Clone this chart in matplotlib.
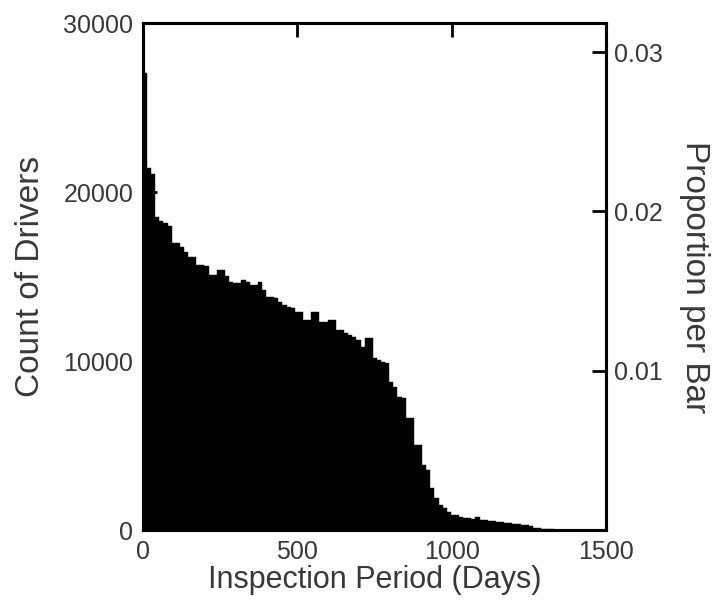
import numpy as np
import matplotlib
matplotlib.use("Agg")
import matplotlib.pyplot as plt

# histogram of inspection periods, 100 bins of ~13.3 days
bin_width = 13.3
counts = [
    27040, 21400, 21100, 18500, 18300, 18200, 18000, 16980, 16980, 16740,
    16450, 16150, 16150, 15680, 15680, 15600, 15090, 15090, 15380, 15380,
    15030, 14670, 14620, 14620, 14790, 14670, 14500, 14500, 14670, 14200,
    13790, 13790, 13730, 13490, 13310, 13190, 13140, 12900, 12900, 12430,
    12430, 12900, 12900, 12310, 12310, 12430, 12430, 11830, 11830, 11660,
    11540, 11420, 11240, 10830, 11360, 11360, 10180, 10060, 9940, 9880,
    8760, 8460, 7870, 7810, 6630, 6630, 5030, 5030, 3850, 3550,
    2490, 1890, 1480, 1300, 1060, 890, 890, 770, 710, 710,
    680, 770, 590, 590, 560, 530, 500, 470, 410, 400,
    380, 350, 300, 280, 240, 120, 100, 80, 60, 40,
]
edges = np.arange(len(counts)) * bin_width

x_ticks = [0, 500, 1000, 1500]
y_ticks = [0, 10000, 20000, 30000]
p_ticks = [0.01, 0.02, 0.03]

txt = '#383838'
plt.rcParams['font.family'] = ['Liberation Sans', 'DejaVu Sans']

fig = plt.figure(figsize=(7.18, 6.10), dpi=100)
ax = fig.add_axes([0.199, 0.131, 0.645, 0.831])

ax.bar(edges, counts, width=bin_width, align='edge', color='k', edgecolor='k', linewidth=0.3)
ax.set_xlim(0, 1500)
ax.set_ylim(0, 30000)
ax.set_xticks(x_ticks)
ax.set_yticks(y_ticks)
ax.tick_params(direction='in', length=10, width=2, labelsize=18, colors='k',
               labelcolor=txt, top=True, pad=7)
for s in ax.spines.values():
    s.set_linewidth(2.2)
ax.set_xlabel('Inspection Period (Days)', fontsize=22, color=txt, labelpad=1)
ax.set_ylabel('Count of Drivers', fontsize=24, color=txt, labelpad=12)

# right axis: proportion of all drivers per bar
total = sum(counts)
ax2 = ax.twinx()
ax2.set_ylim(0, 30000 / total)
ax2.set_yticks(p_ticks)
ax2.set_yticklabels(['0.01', '0.02', '0.03'])
ax2.tick_params(direction='in', length=10, width=2, labelsize=18,
                labelcolor=txt, pad=6)
for s in ax2.spines.values():
    s.set_linewidth(2.2)
ax2.set_ylabel('Proportion per Bar', fontsize=24, color=txt, rotation=-90, labelpad=34)

fig.savefig('out.png', dpi=100)
